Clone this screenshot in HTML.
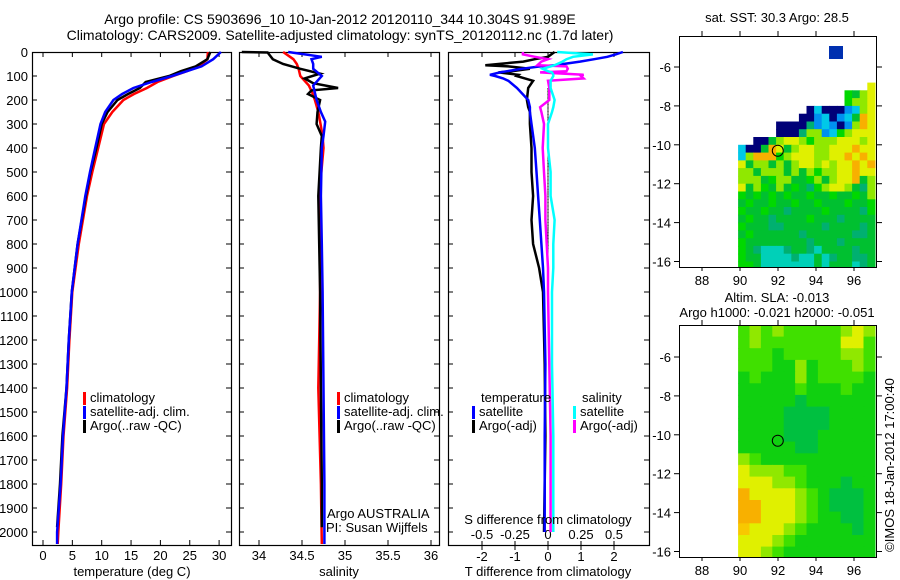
<!DOCTYPE html>
<html><head><meta charset="utf-8">
<style>
body{margin:0;background:#fff;}
svg{display:block;font-family:"Liberation Sans",sans-serif;font-size:13px;}
</style></head>
<body>
<svg id="c" width="900" height="580" xmlns="http://www.w3.org/2000/svg">
<text x="340" y="24" text-anchor="middle" font-size="14">Argo profile: CS 5903696_10 10-Jan-2012 20120110_344 10.304S 91.989E</text>
<text x="340" y="40" text-anchor="middle" font-size="14">Climatology: CARS2009. Satellite-adjusted climatology: synTS_20120112.nc (1.7d later)</text>
<text x="777" y="22" text-anchor="middle">sat. SST: 30.3 Argo: 28.5</text>
<text x="777" y="302" text-anchor="middle">Altim. SLA: -0.013</text>
<text x="777" y="317" text-anchor="middle">Argo h1000: -0.021 h2000: -0.051</text>
<text transform="translate(894,465) rotate(-90)" text-anchor="middle">©IMOS 18-Jan-2012 17:00:40</text>
<g id="g"></g>
</svg>
<script>
// ---- profile data ----
const depthT = [0,30,60,80,100,125,150,175,200,250,300,400,500,600,800,1000,1200,1400,1600,1800,2000,2050];
const tempClim = [28.1,28,26.5,24.5,22.2,19.5,17.7,15.5,13.7,11.8,10.4,9.4,8.4,7.5,6.1,5,4.5,4.1,3.5,3.1,2.6,2.5];
const tempSat = [30.3,29,27,24.5,22,18.5,15.4,13.5,12,10.6,9.8,8.9,8,7.2,5.9,4.9,4.4,4,3.4,3,2.4,2.4];
const depthTA = [0,30,60,80,100,125,150,175,200,250,300,400,500,600,800,1000,1200,1400,1600,1800,1980];
const tempArgo = [28.5,28,26,23.5,21.5,17.5,16.5,14.5,12.7,11,10,9.1,8.1,7.3,5.9,4.9,4.4,4,3.3,2.9,2.4];

const depthS = [0,20,30,50,70,100,140,170,200,250,290,350,400,600,800,1000,1400,1800,2050];
const salClim = [34.28,34.36,34.4,34.44,34.46,34.48,34.58,34.62,34.65,34.69,34.71,34.74,34.75,34.7,34.71,34.71,34.69,34.72,34.73];
const salSat = [34.34,34.73,34.61,34.63,34.63,34.73,34.63,34.65,34.67,34.72,34.77,34.75,34.73,34.72,34.73,34.74,34.75,34.76,34.76];
const depthSA = [0,2,30,50,70,90,110,130,150,160,175,200,250,300,350,400,600,800,1000,1400,1800,1980];
const salArgo = [33.8,34.1,34.16,34.28,34.48,34.71,34.53,34.63,34.92,34.61,34.57,34.71,34.68,34.67,34.73,34.72,34.69,34.7,34.71,34.72,34.73,34.73];

const depthD = [0,10,20,30,40,55,60,70,80,85,95,100,110,120,150,200,230,250,300,400,500,600,700,800,900,1000,1300,1600,2000];
const dTSat = [2.27,2.05,1.8,1.4,0.97,0.2,-0.24,-0.8,-1.24,-1.45,-1.76,-1.6,-1.36,-1.2,-0.94,-0.6,-0.55,-0.55,-0.5,-0.4,-0.35,-0.3,-0.25,-0.2,-0.15,-0.12,-0.08,-0.1,-0.1];
const dTArgo = [0.2,0.1,0,-0.4,-0.75,-1.9,-1.2,-0.55,-1.1,-1.5,-0.9,-0.95,-0.7,-0.45,-0.6,-0.64,-0.6,-0.55,-0.55,-0.5,-0.5,-0.45,-0.5,-0.45,-0.27,-0.15,-0.1,-0.08,-0.12];
const dSSat = [0.07,0.34,0.19,0.14,0.11,0.05,0.02,-0.04,0.0,0.03,0.04,0.04,0.03,0.02,0.02,0.05,0.04,0.03,0,0,0.02,0.02,0.05,0.04,0.04,0.03,0.03,0.04,0.04];
const dSArgo = [-0.19,-0.19,-0.1,0,-0.05,-0.08,0.14,0.15,0.14,-0.06,0.27,0.25,0.27,0,0.01,0.01,-0.06,-0.05,-0.03,-0.04,-0.03,-0.02,-0.02,-0.01,0,0,0.01,0.02,0.02];

// ---- map data ----
const sstLats = [-6.8,-7.2,-7.6,-8.0,-8.4,-8.8,-9.2,-9.6,-10.0,-10.4,-10.8,-11.2,-11.6,-12.0,-12.4,-12.8,-13.2,-13.6,-14.0,-14.4,-14.8,-15.2,-15.6,-16.0];
const sstRows = [
"                 Y",
"              gGLY",
"              gLLY",
"         NCNNNBCLY",
"        NNBCNBCGOY",
"     NNNNTBCBNBLOY",
"     NNNTLLBCgLYYY",
"  NNGLYYLgLLLYYYLY",
"CNNGOYGLYYLLYYYOYY",
"CLOOOgLYYYLLYYOYOY",
"YGLLGLGLYYLYLYYOYO",
"LLGLLLGLGLgLLYYOYY",
"LLLGgLLGGgLGLYYOGL",
"YGLgGLGgGTgLYYLGTL",
"gGgGgGgGGgGGgGGgGL",
"GgGGgGGgGGgGGGgGGg",
"gGGgGGTGGGGgGGGGTg",
"GgGGTGGGGgGGGTGGGG",
"gGGGTTGGGGGTGGGGTG",
"GgGGGGGGTGGGGGGTTG",
"gGGGGGGGGTGGGTGGGG",
"gGTQQQTGGTQGGGGTGG",
"gGGQQQQTQQGQTGGTTG",
"ggGQQQQQQQGQGGGQTG"];
const slaLats = [-4.35,-4.95,-5.55,-6.15,-6.75,-7.35,-7.95,-8.55,-9.15,-9.75,-10.35,-10.95,-11.55,-12.15,-12.75,-13.35,-13.95,-14.55,-15.15,-15.75];
const slaRows = [
"gLgLgggggLYL",
"gLgggggggYYg",
"gggGgggggLLg",
"gggGGLGgggLg",
"GgGGGLGggggG",
"GGGGGgGGGgGG",
"GGGGGDGGGGGG",
"GGGGDDDDGGGG",
"GGGGDDDDGGGG",
"GGGGDDDGGGGG",
"GGGGGDDGGGGG",
"LgGGGGGGGGGG",
"YLLLggGGGGGG",
"YYYLLgGGGDGG",
"OYYYYLgGDDDG",
"OOYYYLgGDDDG",
"OOYYYLgGGDDG",
"oYYYLgGGGGDG",
"YYYLgGGGGGGG",
"YYLgGGGGGGGG"];
const argoLon = 91.989, argoLat = -10.304;

const NS='http://www.w3.org/2000/svg';
const G=document.getElementById('g');
function mk(tag,attrs,parent){const e=document.createElementNS(NS,tag);for(const k in attrs)e.setAttribute(k,attrs[k]);(parent||G).appendChild(e);return e;}
function txt(x,y,s,anchor,parent,size){const t=mk('text',{x:x,y:y,'text-anchor':anchor||'middle'},parent);if(size)t.setAttribute('font-size',size);t.textContent=s;return t;}

const y0=52, ppm=0.24, yBot=545;
const yD=d=>y0+d*ppm;
const xT=t=>43+t*5.87;
const xS=s=>259+(s-34)*86;
const xDT=d=>548+d*33;
const xDS=d=>548+d*132;

function frame(x1,x2,name){
  const r=mk('rect',{x:x1+0.5,y:y0+0.5,width:x2-x1,height:yBot-y0,fill:'none',stroke:'#000','stroke-width':1.2});
  
  
  for(let d=100;d<=2000;d+=100){
    mk('line',{x1:x1,x2:x1+5,y1:yD(d),y2:yD(d),stroke:'#000'});
    mk('line',{x1:x2-5,x2:x2,y1:yD(d),y2:yD(d),stroke:'#000'});
  }
}
function line(xs,ds,fx,color,name,w){
  const pts=xs.map((v,i)=>fx(v).toFixed(1)+','+yD(ds[i]).toFixed(1)).join(' ');
  const p=mk('polyline',{points:pts,fill:'none',stroke:color,'stroke-width':w||2.5,'stroke-linejoin':'miter'});
  
  
}
function legend(x,y,items){
  items.forEach((it,i)=>{
    mk('rect',{x:x,y:y+i*14-10,width:3,height:13,fill:it[0]});
    txt(x+7,y+i*14,it[1],'start');
  });
}

// Panel 1
frame(32,231,'temperature-panel');
for(let d=0;d<=2000;d+=100){txt(28,yD(d)+5,String(d),'end');}
[0,5,10,15,20,25,30].forEach(v=>{mk('line',{x1:xT(v),x2:xT(v),y1:yBot,y2:yBot-5,stroke:'#000'});mk('line',{x1:xT(v),x2:xT(v),y1:y0,y2:y0+5,stroke:'#000'});txt(xT(v),560,String(v));});
txt(132,576,'temperature (deg C)');
line(tempClim,depthT,xT,'#ff0000','temp-climatology-line');
line(tempArgo,depthTA,xT,'#000000','temp-argo-line');
line(tempSat,depthT,xT,'#0000ff','temp-satellite-line');
legend(83,402,[['#ff0000','climatology'],['#0000ff','satellite-adj. clim.'],['#000','Argo(..raw -QC)']]);

// Panel 2
frame(239,439,'salinity-panel');
[34,34.5,35,35.5,36].forEach(v=>{mk('line',{x1:xS(v),x2:xS(v),y1:yBot,y2:yBot-5,stroke:'#000'});mk('line',{x1:xS(v),x2:xS(v),y1:y0,y2:y0+5,stroke:'#000'});txt(xS(v),560,String(v));});
txt(339,576,'salinity');
line(salClim,depthS,xS,'#ff0000','sal-climatology-line');
line(salArgo,depthSA,xS,'#000000','sal-argo-line');
line(salSat,depthS,xS,'#0000ff','sal-satellite-line');
legend(337,402,[['#ff0000','climatology'],['#0000ff','satellite-adj. clim.'],['#000','Argo(..raw -QC)']]);
txt(327,518,'Argo AUSTRALIA','start');
txt(326,532,'PI: Susan Wijffels','start');

// Panel 3
frame(448,649,'difference-panel');
for(let d=150;d<=1000;d+=6){mk('line',{x1:548,x2:548,y1:yD(d),y2:yD(d)+1.2,stroke:'#000','stroke-width':1});}
[-2,-1,0,1,2].forEach(v=>{mk('line',{x1:xDT(v),x2:xDT(v),y1:yBot,y2:yBot+5,stroke:'#000'});mk('line',{x1:xDT(v),x2:xDT(v),y1:y0,y2:y0+5,stroke:'#000'});txt(xDT(v),561,String(v));});
[[-0.5,'-0.5'],[-0.25,'-0.25'],[0,'0'],[0.25,'0.25'],[0.5,'0.5']].forEach(v=>{mk('line',{x1:xDS(v[0]),x2:xDS(v[0]),y1:yBot-4,y2:yBot,stroke:'#000'});txt(xDS(v[0]),539,v[1]);});
txt(548,576,'T difference from climatology');
line(dTArgo,depthD,xDT,'#000000','t-diff-argo-line');
line(dTSat,depthD,xDT,'#0000ff','t-diff-satellite-line');
line(dSArgo,depthD,xDS,'#ff00ff','s-diff-argo-line');
line(dSSat,depthD,xDS,'#00ffff','s-diff-satellite-line');
txt(548,524,'S difference from climatology');
txt(481,402,'temperature','start');
txt(582,402,'salinity','start');
legend(472,416,[['#0000ff','satellite'],['#000','Argo(-adj)']]);
legend(573,416,[['#00ffff','satellite'],['#ff00ff','Argo(-adj)']]);

// Maps
const sstColors={N:'#000078',B:'#0090f0',C:'#00c8e8',T:'#00b070',G:'#00c030',g:'#00d800',L:'#90e800',Y:'#e0f000',O:'#f8b000',Q:'#00d0b8'};
const slaColors={G:'#10d010',D:'#00c040',g:'#40e000',L:'#90e800',Y:'#e0f000',y:'#c8f000',O:'#f8b000',o:'#f8c800'};
const mx=lon=>702+(lon-88)*19;
function map(top,bot,latRef,yRef,lats,rows,dLat,dLon,name,colors){
  const my=lat=>yRef-(lat-latRef)*19.45;
  const g=mk('g',{});
  
  
  const cp=mk('clipPath',{id:name+'-clip'},g);
  mk('rect',{x:679,y:top,width:198,height:bot-top},cp);
  const cg=mk('g',{'clip-path':'url(#'+name+'-clip)'},g);
  rows.forEach((r,i)=>{for(let j=0;j<r.length;j++){const ch=r[j];if(ch===' ')continue;
    const lon=89.9+j*dLon;
    const c=mk('rect',{x:mx(lon).toFixed(1),y:my(lats[i]).toFixed(1),width:(dLon*19+0.6).toFixed(1),height:(dLat*19.45+0.6).toFixed(1),fill:colors[ch]},cg);
    
    
  }});
  mk('rect',{x:679.5,y:top+0.5,width:197,height:bot-top,fill:'none',stroke:'#000'},g);
  [88,90,92,94,96].forEach(v=>{mk('line',{x1:mx(v),x2:mx(v),y1:top,y2:top-5,stroke:'#000'},g);mk('line',{x1:mx(v),x2:mx(v),y1:bot,y2:bot+4,stroke:'#000'},g);});
  for(let la=-4;la>=-16;la-=2){const y=my(la);if(y<top+5||y>bot)continue;
    mk('line',{x1:674,x2:679,y1:y,y2:y,stroke:'#000'},g);mk('line',{x1:877,x2:882,y1:y,y2:y,stroke:'#000'},g);
    txt(671,y+5,String(la),'end',g);}
  [88,90,92,94,96].forEach(v=>txt(mx(v),bot+18,String(v),'middle',g));
  mk('circle',{cx:mx(argoLon),cy:my(argoLat),r:5.5,fill:'none',stroke:'#000','stroke-width':1},g);
  return my;
}
map(36,267,-6,67,sstLats,sstRows,0.4,0.4,'sst-map',sstColors);
mk('rect',{x:829,y:46,width:14,height:13,fill:'#0030b0'});
map(325,557,-6,357,slaLats,slaRows,0.6,0.6,'sla-map',slaColors);
</script>
</body></html>
